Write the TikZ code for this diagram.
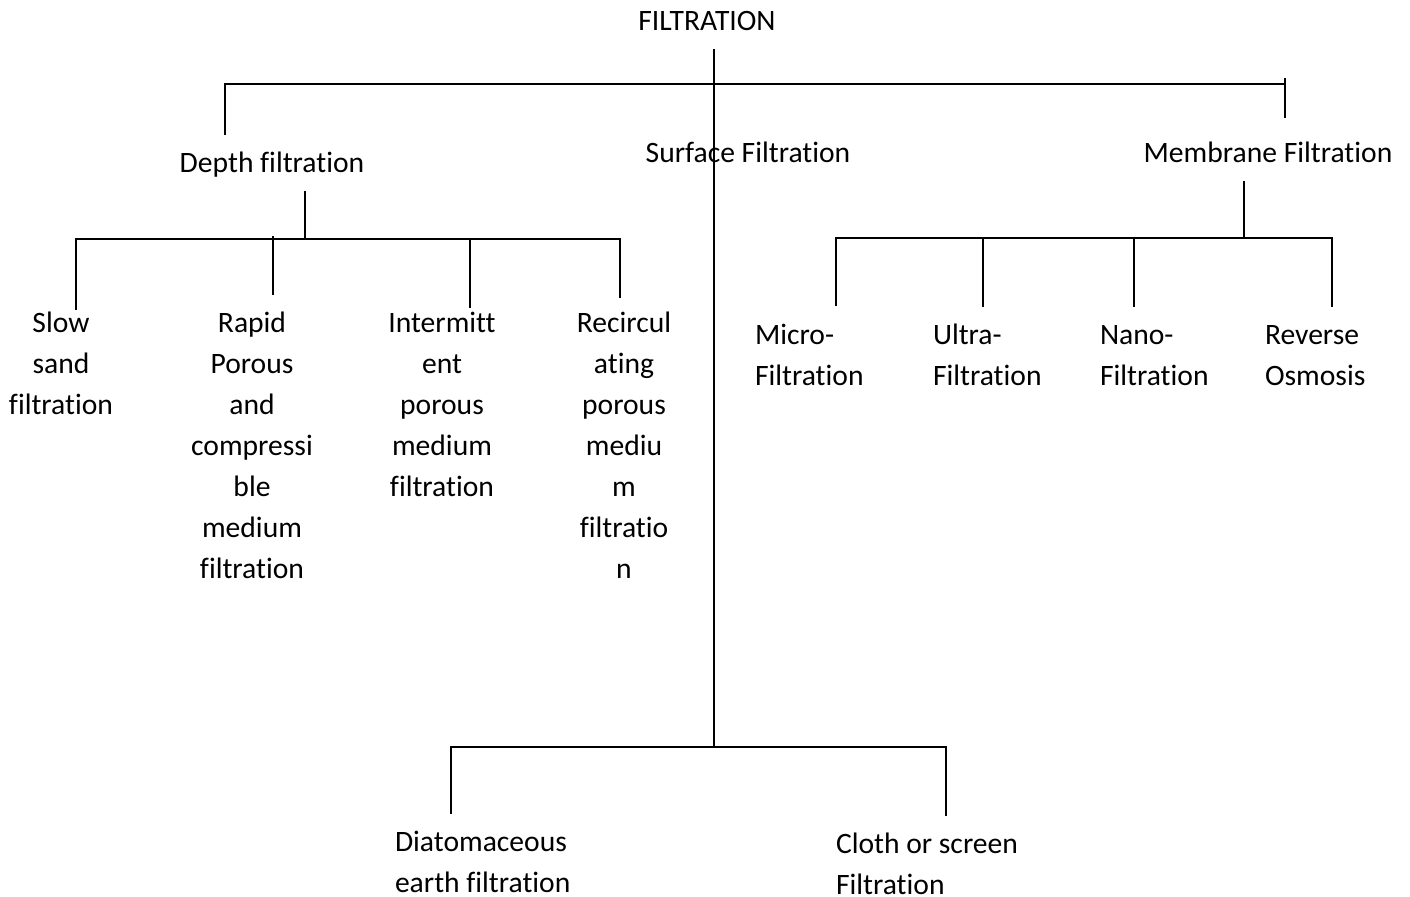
\documentclass[tikz,border=0pt]{standalone}
\usepackage{fontspec}
\setmainfont{Carlito}[Ligatures=NoCommon]
\newcommand\cstackx[1]{\begin{tabular}[t]{@{}c@{}}#1\end{tabular}}
\newcommand\lstackx[1]{\begin{tabular}[t]{@{}l@{}}#1\end{tabular}}
\begin{document}
\begin{tikzpicture}[x=0.5pt,y=-0.5pt,
  lbl/.style={inner sep=0pt, outer sep=0pt, font=\fontsize{14.8}{20.5}\selectfont},
  conn/.style={line width=1pt, line cap=rect}]
\useasboundingbox (0,0) rectangle (1410,896);

% ---- labels ----
\node[lbl, anchor=base] (root) at (707,30) {FILTRATION};
\node[lbl, anchor=base] (depth) at (272,172) {Depth filtration};
\node[lbl, anchor=base] (surface) at (748,162) {Surface Filtration};
\node[lbl, anchor=base] (membrane) at (1268,162) {Membrane Filtration};

\node[lbl, anchor=base] (slow) at (61,332) {\cstackx{Slow\\sand\\filtration}};
\node[lbl, anchor=base] (rapid) at (252,332) {\cstackx{Rapid\\Porous\\and\\compressi\\ble\\medium\\filtration}};
\node[lbl, anchor=base] (inter) at (442,332) {\cstackx{Intermitt\\ent\\porous\\medium\\filtration}};
\node[lbl, anchor=base] (recirc) at (624,332) {\cstackx{Recircul\\ating\\porous\\mediu\\m\\filtratio\\n}};

\node[lbl, anchor=base west] (micro) at (755,344) {\lstackx{Micro-\\Filtration}};
\node[lbl, anchor=base west] (ultra) at (933,344) {\lstackx{Ultra-\\Filtration}};
\node[lbl, anchor=base west] (nano) at (1100,344) {\lstackx{Nano-\\Filtration}};
\node[lbl, anchor=base west] (ro) at (1265,344) {\lstackx{Reverse\\Osmosis}};

\node[lbl, anchor=base west] (diat) at (395,851) {\lstackx{Diatomaceous\\earth filtration}};
\node[lbl, anchor=base west] (cloth) at (836,853) {\lstackx{Cloth or screen\\Filtration}};

% ---- junction coordinates ----
\coordinate (rTop) at (714,50);
\coordinate (rBar) at (714,84);
\coordinate (rL) at (225,84);
\coordinate (rLd) at (225,134);
\coordinate (rR) at (1285,84);
\coordinate (rRu) at (1285,79);
\coordinate (rRd) at (1285,117);
\coordinate (rBot) at (714,747);

\coordinate (dTop) at (305,192);
\coordinate (dBar) at (305,239);
\coordinate (dL) at (76,239);
\coordinate (dR) at (620,239);
\coordinate (d1) at (76,309);
\coordinate (d2a) at (273,237);
\coordinate (d2) at (273,294);
\coordinate (d3a) at (470,239);
\coordinate (d3) at (470,307);
\coordinate (d4) at (620,297);

\coordinate (mTop) at (1244,182);
\coordinate (mBar) at (1244,238);
\coordinate (mL) at (836,238);
\coordinate (mR) at (1332,238);
\coordinate (m1) at (836,305);
\coordinate (m2a) at (983,238);
\coordinate (m2) at (983,306);
\coordinate (m3a) at (1134,238);
\coordinate (m3) at (1134,306);
\coordinate (m4) at (1332,306);

\coordinate (sL) at (451,747);
\coordinate (sR) at (946,747);
\coordinate (s1) at (451,813);
\coordinate (s2) at (946,815);

% ---- connectors ----
\draw[conn] (rTop) -- (rBot);
\draw[conn] (rLd) -- (rL) -- (rR);
\draw[conn] (rRu) -- (rRd);

\draw[conn] (dTop) -- (dBar);
\draw[conn] (d1) -- (dL) -- (dR) -- (d4);
\draw[conn] (d2a) -- (d2);
\draw[conn] (d3a) -- (d3);

\draw[conn] (mTop) -- (mBar);
\draw[conn] (m1) -- (mL) -- (mR) -- (m4);
\draw[conn] (m2a) -- (m2);
\draw[conn] (m3a) -- (m3);

\draw[conn] (s1) -- (sL) -- (sR) -- (s2);
\end{tikzpicture}
\end{document}
